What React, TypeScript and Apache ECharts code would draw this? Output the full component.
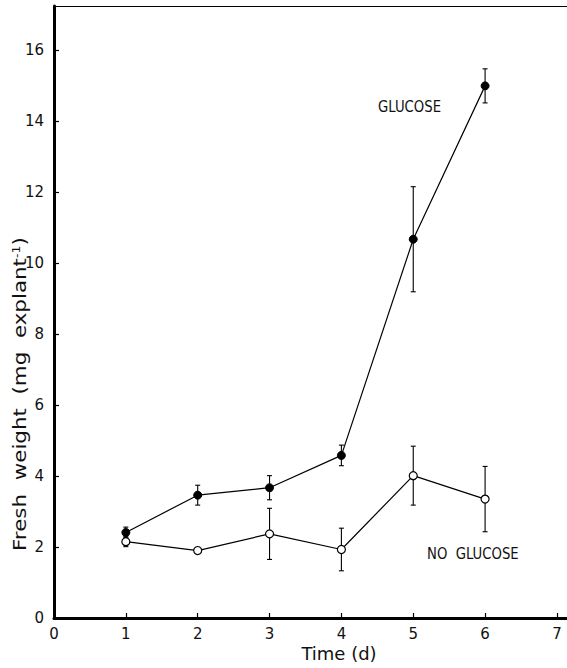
import React, { useEffect, useRef } from "react";
import * as echarts from "echarts";

const days = [1, 2, 3, 4, 5, 6];
const glucoseMean = [2.41, 3.46, 3.67, 4.58, 10.67, 14.99];
const glucoseErr = [0.15, 0.28, 0.34, 0.29, 1.48, 0.48];
const noGlucoseMean = [2.15, 1.9, 2.37, 1.93, 4.01, 3.35];
const noGlucoseErr = [0.14, 0.05, 0.72, 0.6, 0.83, 0.92];
const xTicks = [0, 1, 2, 3, 4, 5, 6, 7];
const yTicks = [0, 2, 4, 6, 8, 10, 12, 14, 16];

const FONT = "'DejaVu Sans', sans-serif";
const CFONT = "'DejaVu Sans Condensed', 'DejaVu Sans', sans-serif";

export default function App() {
  const ref = useRef<HTMLDivElement>(null);
  useEffect(() => {
    if (!ref.current) return;
    const chart = echarts.init(ref.current, undefined, { renderer: "svg" });
    const errData = (m: number[], e: number[]) =>
      days.map((d, i) => [d, m[i] - e[i], m[i] + e[i]]);
    const errSeries = (data: number[][]) => ({
      type: "custom",
      data,
      z: 1,
      renderItem: (params: any, api: any) => {
        const x = api.value(0);
        const lo = api.coord([x, api.value(1)]);
        const hi = api.coord([x, api.value(2)]);
        const w = 2.5;
        const st = { stroke: "#000", lineWidth: 1.1 };
        return {
          type: "group",
          children: [
            { type: "line", shape: { x1: lo[0], y1: lo[1], x2: hi[0], y2: hi[1] }, style: st },
            { type: "line", shape: { x1: lo[0] - w, y1: lo[1], x2: lo[0] + w, y2: lo[1] }, style: st },
            { type: "line", shape: { x1: hi[0] - w, y1: hi[1], x2: hi[0] + w, y2: hi[1] }, style: st },
          ],
        };
      },
    });
    chart.setOption({
      animation: false,
      backgroundColor: "#fff",
      grid: { left: 54, right: 0, top: 6, bottom: 50, containLabel: false, outerBoundsMode: "none" },
      xAxis: [
        {
          type: "value",
          min: 0,
          max: 7.14,
          interval: 1,
          axisLine: { show: true, onZero: false, lineStyle: { color: "#000", width: 3 } },
          axisTick: { show: true, inside: true, length: 5, customValues: xTicks, lineStyle: { color: "#000", width: 1.2 } },
          axisLabel: { customValues: xTicks, fontFamily: FONT, fontSize: 15, color: "#111", margin: 8 },
          splitLine: { show: false },
        },
        {
          type: "value",
          position: "top",
          min: 0,
          max: 7.14,
          axisLine: { show: true, onZero: false, lineStyle: { color: "#000", width: 1.2 } },
          axisTick: { show: false },
          axisLabel: { show: false },
          splitLine: { show: false },
        },
      ],
      yAxis: {
        type: "value",
        min: 0,
        max: 17.24,
        interval: 2,
        axisLine: { show: true, onZero: false, lineStyle: { color: "#000", width: 3 } },
        axisTick: { show: true, inside: true, length: 5, customValues: yTicks, lineStyle: { color: "#000", width: 1.2 } },
        axisLabel: { customValues: yTicks, fontFamily: FONT, fontSize: 15, color: "#111", margin: 10 },
        splitLine: { show: false },
      },
      graphic: [
        {
          type: "text",
          x: 339,
          y: 653,
          style: { text: "Time (d)", font: `18px ${FONT}`, fill: "#111", align: "center", verticalAlign: "middle" },
        },
        {
          type: "text",
          x: 20,
          y: 394,
          rotation: Math.PI / 2,
          scaleX: 1.26,
          style: {
            text: "{a|Fresh  weight  (mg  explant}{s|-1}{a|)}",
            align: "center",
            verticalAlign: "middle",
            rich: {
              a: { fontFamily: FONT, fontSize: 17, fill: "#111" },
              s: { fontFamily: FONT, fontSize: 10, fill: "#111", verticalAlign: "top", padding: [0, 0, 8, 0] },
            },
          },
        },
        { type: "text", left: 378, top: 99, scaleX: 0.92, style: { text: "GLUCOSE", font: `16px ${CFONT}`, fill: "#111" } },
        { type: "text", left: 427, top: 546, scaleX: 0.92, style: { text: "NO  GLUCOSE", font: `16px ${CFONT}`, fill: "#111" } },
      ],
      series: [
        errSeries(errData(glucoseMean, glucoseErr)),
        errSeries(errData(noGlucoseMean, noGlucoseErr)),
        {
          type: "line",
          name: "GLUCOSE",
          data: days.map((d, i) => [d, glucoseMean[i]]),
          symbol: "circle",
          symbolSize: 8,
          lineStyle: { color: "#000", width: 1.2 },
          itemStyle: { color: "#000", borderColor: "#000", borderWidth: 1 },
          z: 3,
        },
        {
          type: "line",
          name: "NO GLUCOSE",
          data: days.map((d, i) => [d, noGlucoseMean[i]]),
          symbol: "circle",
          symbolSize: 8,
          showAllSymbol: true,
          lineStyle: { color: "#000", width: 1.2 },
          itemStyle: { color: "#fff", borderColor: "#000", borderWidth: 1.2 },
          z: 3,
        },
      ],
    });
    return () => chart.dispose();
  }, []);
  return (
    <div
      ref={ref}
      style={{ position: "fixed", left: 0, top: 0, width: 567, height: 668, background: "#fff" }}
    />
  );
}
